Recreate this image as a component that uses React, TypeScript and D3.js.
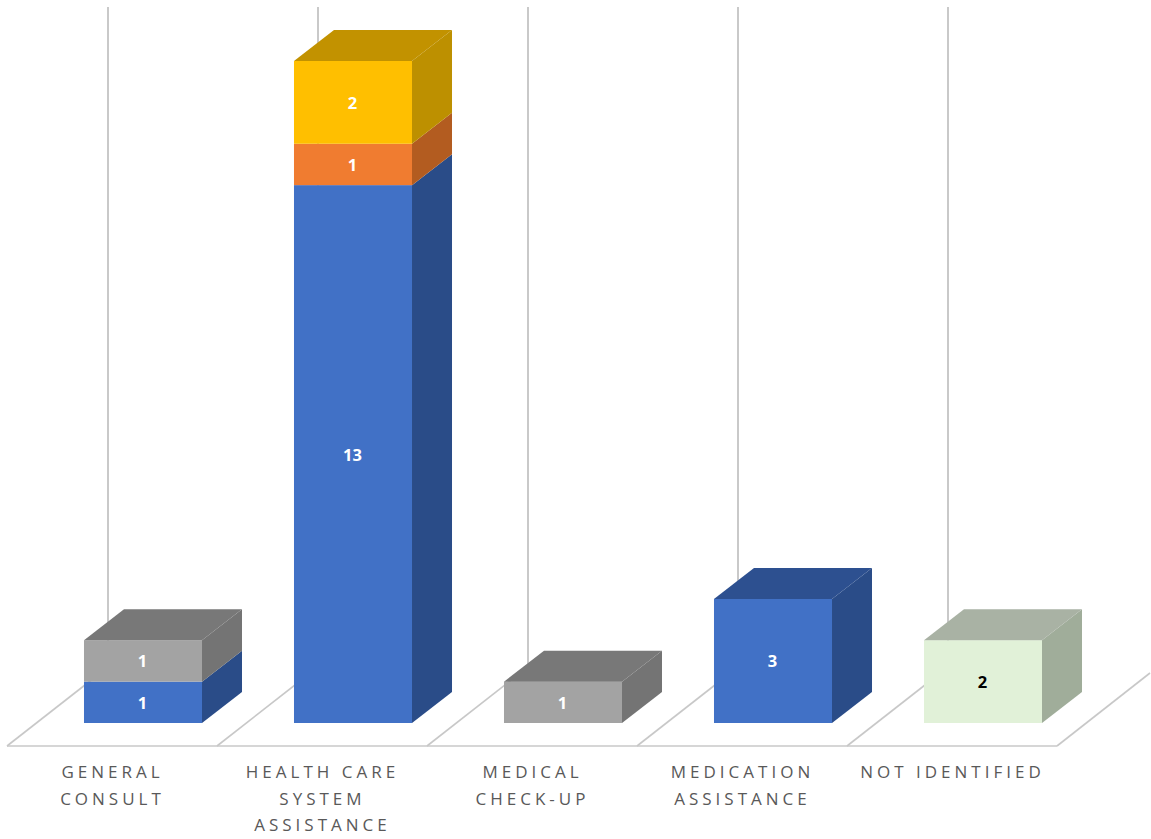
import React from "react";
import * as d3 from "d3";

const categories = ["General consult", "Health care system assistance", "Medical check-up", "Medication assistance", "Not identified"];
const categoryLines = [
  ["GENERAL", "CONSULT"],
  ["HEALTH CARE", "SYSTEM", "ASSISTANCE"],
  ["MEDICAL", "CHECK-UP"],
  ["MEDICATION", "ASSISTANCE"],
  ["NOT IDENTIFIED"],
];
const seriesKeys = ["blue", "orange", "gray", "yellow", "green"];
const blueValues = [1, 13, 0, 3, 0];
const orangeValues = [0, 1, 0, 0, 0];
const grayValues = [1, 0, 1, 0, 0];
const yellowValues = [0, 2, 0, 0, 0];
const greenValues = [0, 0, 0, 0, 2];
const frontColors = ["#4171c6", "#f07c30", "#a3a3a3", "#ffbf00", "#e1f1d8"];
const sideColors = ["#2a4c88", "#b35c20", "#747474", "#bd9000", "#a0ad9a"];
const topColors = ["#2d5090", "#b35c20", "#787878", "#c29200", "#a9b2a4"];
const labelColors = ["#ffffff", "#ffffff", "#ffffff", "#ffffff", "#000000"];

const W = 1151;
const H = 839;
const depthX = 40;
const depthY = 31;
const floorFront = 746;
const floorDX = 101;
const floorDY = 79;

const rows = categories.map((c, i) => ({
  category: c,
  blue: blueValues[i],
  orange: orangeValues[i],
  gray: grayValues[i],
  yellow: yellowValues[i],
  green: greenValues[i],
}));
const stacked = d3.stack<any>().keys(seriesKeys)(rows);

const x = d3.scaleBand<string>().domain(categories).range([38, 1088]).paddingInner(0.438).paddingOuter(0.219);
const y = d3.scaleLinear().domain([0, 16]).range([723, 61]);
const bw = x.bandwidth();
const slotLeft = (c: string) => (x(c) as number) - 77;
const pathOf = d3.line();

export default function App() {
  const totals = rows.map((_, i) => d3.max(stacked, (s) => s[i][1]) as number);
  return (
    <svg width={W} height={H} viewBox={`0 0 ${W} ${H}`} style={{ position: "absolute", left: 0, top: 0, background: "#fff" }}>
      {/* back wall gridlines */}
      {categories.map((c) => {
        const gx = slotLeft(c) + floorDX;
        return <line key={c} x1={gx} x2={gx} y1={7} y2={floorFront - floorDY} stroke="#c9c9c9" strokeWidth={2} />;
      })}
      {/* floor outline */}
      <g fill="none" stroke="#c8c8c8" strokeWidth={1.6}>
        <line x1={slotLeft(categories[0])} x2={slotLeft(categories[4]) + 210} y1={floorFront} y2={floorFront} />
        {categories.map((c) => (
          <path
            key={c}
            d={pathOf([
              [slotLeft(c), floorFront],
              [slotLeft(c) + floorDX, floorFront - floorDY],
            ]) as string}
          />
        ))}
        <path
          d={pathOf([
            [slotLeft(categories[4]) + 210, floorFront],
            [slotLeft(categories[4]) + 210 + 93, floorFront - 73],
          ]) as string}
        />
      </g>
      {/* stacked 3D columns */}
      {categories.map((c, i) => {
        const bx = x(c) as number;
        return (
          <g key={c}>
            {stacked.map((s, si) => {
              const [v0, v1] = s[i];
              if (v1 === v0) return null;
              const y0 = y(v0);
              const y1 = y(v1);
              return (
                <g key={s.key}>
                  <rect x={bx} y={y1} width={bw} height={y0 - y1} fill={frontColors[si]} />
                  <path
                    fill={sideColors[si]}
                    d={(pathOf([
                      [bx + bw, y0],
                      [bx + bw + depthX, y0 - depthY],
                      [bx + bw + depthX, y1 - depthY],
                      [bx + bw, y1],
                    ]) as string) + "Z"}
                  />
                  {v1 === totals[i] && (
                    <path
                      fill={topColors[si]}
                      d={(pathOf([
                        [bx, y1],
                        [bx + depthX, y1 - depthY],
                        [bx + bw + depthX, y1 - depthY],
                        [bx + bw, y1],
                      ]) as string) + "Z"}
                    />
                  )}
                  <text
                    x={bx + bw / 2 - 0.5}
                    y={(y0 + y1) / 2 + 0.5}
                    dy="0.36em"
                    textAnchor="middle"
                    fontFamily="'Open Sans', sans-serif"
                    fontWeight={700}
                    fontSize={16.5}
                    fill={labelColors[si]}
                  >
                    {v1 - v0}
                  </text>
                </g>
              );
            })}
          </g>
        );
      })}
      {/* category labels */}
      {categories.map((c, i) => (
        <text
          key={c}
          textAnchor="middle"
          fontFamily="'Open Sans', sans-serif"
          fontSize={17}
          letterSpacing={4}
          fill="#595959"
        >
          {categoryLines[i].map((line, li) => (
            <tspan key={line} x={slotLeft(c) + 105.5} y={778 + li * 26.5}>
              {line}
            </tspan>
          ))}
        </text>
      ))}
    </svg>
  );
}
